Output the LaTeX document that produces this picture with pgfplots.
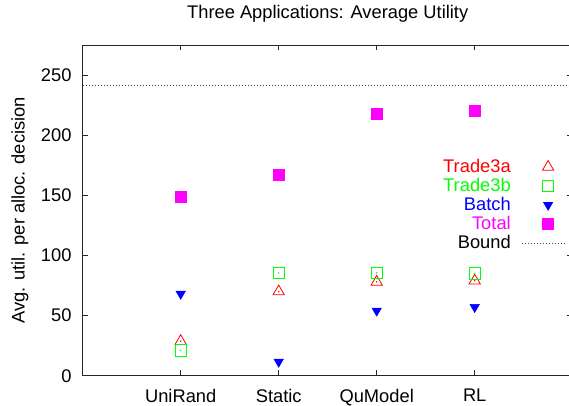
\documentclass[border=0pt]{standalone}
\usepackage{pgfplots}
\pgfplotsset{compat=1.18}
\usepackage{fontspec}
\setmainfont{Liberation Sans}
\definecolor{cred}{RGB}{255,0,0}
\definecolor{cgreen}{RGB}{0,255,0}
\definecolor{cblue}{RGB}{0,0,255}
\definecolor{cmag}{RGB}{255,0,255}
\pgfplotsset{
 legmark/.style={legend image code/.code={\path (0pt,-4pt) (60pt,4pt); \draw[##1] plot coordinates {(37pt,1.5pt)};}},
 legline/.style={legend image code/.code={\path (0pt,-4pt) (60pt,4pt); \draw[##1] (11pt,1.5pt) -- (56pt,1.5pt);}},
}
\begin{document}
\fontsize{18.3}{22}\selectfont
\begin{tikzpicture}
\path[use as bounding box] (0,0) rectangle (569pt,405pt);
\begin{axis}[
 at={(82.7pt,29.3pt)}, anchor=south west,
 scale only axis, width=490pt, height=330.7pt,
 xmin=0, xmax=5, ymin=0, ymax=275,
 xtick={1,2,3,4}, xticklabels={UniRand,Static,QuModel,RL},
 ytick={0,50,100,150,200,250},
 /pgf/number format/assume math mode=true,
 tick align=inside, major tick length=5.5pt,
 xtick pos=both, ytick pos=both,
 axis line style={line width=0.8pt, black!85},
 every tick/.style={line width=0.8pt, black!85},
 xticklabel style={anchor=north, inner sep=0pt, yshift=-13pt},
 yticklabel style={anchor=east, inner sep=0pt, xshift=-11pt},
 title={Three Applications: Average Utility},
 title style={at={(axis description cs:0.5,1.0626)}, anchor=base, inner sep=0pt},
 ylabel={Avg. util. per alloc. decision},
 ylabel style={at={(axis description cs:-0.1184,0.5)}, anchor=base, inner sep=0pt},
 legend plot pos=right, legend cell align=right,
 legend style={at={(axis description cs:0.998,0.656)}, anchor=north east, draw=none, fill=none, inner sep=0pt, row sep=0pt, column sep=0pt, nodes={inner sep=0pt, text height=13.2pt, text depth=5.8pt}},
 clip=false,
]
\addplot[only marks, cred, mark=triangle, mark size=6.5pt, line width=0.8pt, legmark]
  coordinates {(1,28.7) (2,70) (3,78) (4,79)};
\addlegendentry{\textcolor{cred}{Trade3a}}
\addplot[only marks, cgreen, mark=square, mark size=5.6pt, line width=0.8pt, legmark]
  coordinates {(1,21) (2,85.5) (3,85.5) (4,85)};
\addlegendentry{\textcolor{cgreen}{Trade3b}}
\addplot[only marks, cblue, mark=triangle*, mark options={rotate=180}, mark size=5.5pt, legmark]
  coordinates {(1,68) (2,11.5) (3,54) (4,57)};
\addlegendentry{\textcolor{cblue}{Batch}}
\addplot[only marks, cmag, mark=square*, mark size=5.5pt, legmark]
  coordinates {(1,149) (2,167.5) (3,218) (4,220.5)};
\addlegendentry{\textcolor{cmag}{Total}}
\addplot[black!75, line width=0.8pt, dash pattern=on 1pt off 2pt, legline]
  coordinates {(0,241) (5,241)};
\addlegendentry{Bound}
\addplot[only marks, cred, mark=*, mark size=0.5pt, forget plot]
  coordinates {(1,28.7) (2,70) (3,78) (4,79)};
\addplot[only marks, cgreen, mark=*, mark size=0.5pt, forget plot]
  coordinates {(1,21) (2,85.5) (3,85.5) (4,85)};
\end{axis}
\end{tikzpicture}
\end{document}
